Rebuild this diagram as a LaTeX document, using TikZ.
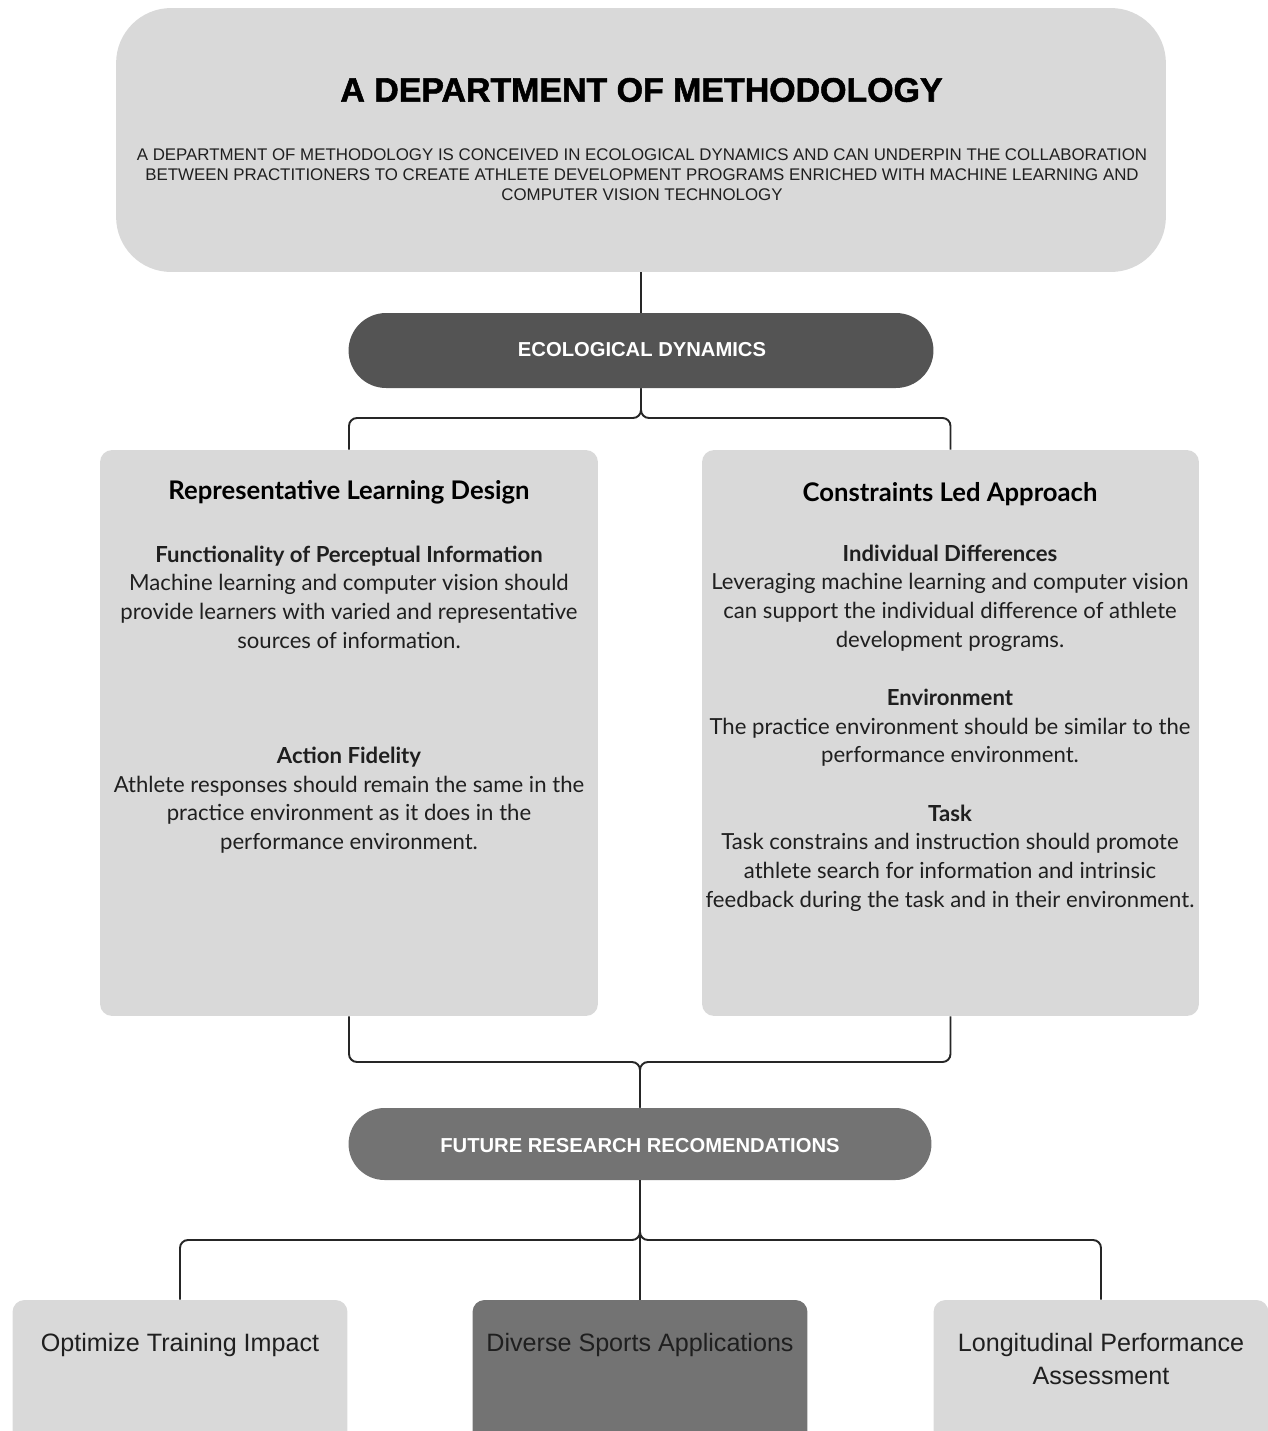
\documentclass[tikz,border=0pt]{standalone}
\usepackage{fontspec}
\setmainfont{Lato}
\newfontfamily\arialfont{Liberation Sans}
\newfontfamily\heavyfont[BoldFeatures={FakeBold=1.6}]{Liberation Sans}
\usetikzlibrary{positioning}

\definecolor{boxgray}{HTML}{D9D9D9}
\definecolor{darkpill}{HTML}{545454}
\definecolor{midpill}{HTML}{737373}
\definecolor{linegray}{HTML}{262626}
\definecolor{bodytext}{HTML}{1F1F1F}

\tikzset{
  panel/.style={fill=boxgray, rounded corners=0.24cm, inner sep=0pt},
  pill/.style={inner sep=0pt},
  conn/.style={draw=linegray, line width=1.1pt, rounded corners=0.16cm},
  headtxt/.style={font=\fontsize{14.6}{17}\selectfont\bfseries, text=black},
  bodytxt/.style={align=center, text=bodytext, font=\fontsize{12.6}{16.3}\selectfont},
  pilltxt/.style={text=white, font=\arialfont\fontsize{11.5}{13}\selectfont\bfseries},
  leaftxt/.style={align=center, text=bodytext, font=\arialfont\fontsize{14.3}{18.7}\selectfont}
}

\begin{document}
\begin{tikzpicture}[x=0.02cm, y=-0.02cm]
    \useasboundingbox (0,0) rectangle (1268,1431);
    \clip (0,0) rectangle (1268,1431);

    % boxes
    \node[panel, rounded corners=1.1cm, minimum width=21cm, minimum height=5.28cm] (top) at (641,140) {};
    \node[pill, fill=darkpill, rounded corners=0.75cm, minimum width=11.7cm, minimum height=1.5cm] (eco) at (641,350.5) {};
    \node[panel, minimum width=9.96cm, minimum height=11.32cm] (rld) at (349,733) {};
    \node[panel, minimum width=9.94cm, minimum height=11.32cm] (cla) at (950.5,733) {};
    \node[pill, fill=midpill, rounded corners=0.72cm, minimum width=11.66cm, minimum height=1.44cm] (future) at (640,1144) {};
    \node[panel, minimum width=6.7cm, minimum height=4cm] (opt) at (180,1400) {};
    \node[panel, fill=midpill, minimum width=6.7cm, minimum height=4cm] (div) at (640,1400) {};
    \node[panel, minimum width=6.7cm, minimum height=4cm] (lon) at (1101,1400) {};

    % connectors
    \coordinate (forkA) at (641,418);
    \coordinate (forkB) at (640,1062);
    \coordinate (forkC) at (640,1240);
    \draw[conn] (top.south) -- (eco.north);
    \draw[conn] (eco.south) -- (eco.south |- forkA) -| (rld.north);
    \draw[conn] (eco.south) -- (eco.south |- forkA) -| (cla.north);
    \draw[conn] (rld.south) |- (forkB) -- (future.north);
    \draw[conn] (cla.south) |- (forkB) -- (future.north);
    \draw[conn] (future.south) -- (future.south |- forkC) -| (opt.north);
    \draw[conn] (future.south) -- (future.south |- forkC) -| (lon.north);
    \draw[conn] (future.south) -- (div.north);

    % texts
    \node[font=\heavyfont\fontsize{19.3}{22}\selectfont\bfseries] (toptitle) at (641.5,90) {A DEPARTMENT OF METHODOLOGY};
    \node[align=center, text=bodytext, font=\arialfont\fontsize{9.6}{11.3}\selectfont] (topsub) at (642,175)
      {A DEPARTMENT OF METHODOLOGY IS CONCEIVED IN ECOLOGICAL DYNAMICS AND CAN UNDERPIN THE COLLABORATION\\
       BETWEEN PRACTITIONERS TO CREATE ATHLETE DEVELOPMENT PROGRAMS ENRICHED WITH MACHINE LEARNING AND\\
       COMPUTER VISION TECHNOLOGY};
    \node[pilltxt] (ecotxt) at (642,350) {ECOLOGICAL DYNAMICS};

    \node[headtxt] (rldhead) at (349,492) {Representative Learning Design};
    \node[bodytxt] (rldfun) at (349,597)
      {\textbf{Functionality of Perceptual Information}\\
       Machine learning and computer vision should\\
       provide learners with varied and representative\\
       sources of information.};
    \node[bodytxt] (rldact) at (349,800)
      {\textbf{Action Fidelity}\\
       Athlete responses should remain the same in the\\
       practice environment as it does in the\\
       performance environment.};

    \node[headtxt] (clahead) at (950,494) {Constraints Led Approach};
    \node[bodytxt] (claind) at (950,598)
      {\textbf{Individual Differences}\\
       Leveraging machine learning and computer vision\\
       can support the individual difference of athlete\\
       development programs.};
    \node[bodytxt] (claenv) at (950,728)
      {\textbf{Environment}\\
       The practice environment should be similar to the\\
       performance environment.};
    \node[bodytxt] (clatask) at (950,858)
      {\textbf{Task}\\
       Task constrains and instruction should promote\\
       athlete search for information and intrinsic\\
       feedback during the task and in their environment.};

    \node[pilltxt] (futuretxt) at (640,1146) {FUTURE RESEARCH RECOMENDATIONS};

    \node[leaftxt] (opttxt) at (180,1345) {Optimize Training Impact};
    \node[leaftxt] (divtxt) at (640,1345) {Diverse Sports Applications};
    \node[leaftxt, anchor=north] (lontxt) at (1101,1327) {Longitudinal Performance\\Assessment};
\end{tikzpicture}
\end{document}
